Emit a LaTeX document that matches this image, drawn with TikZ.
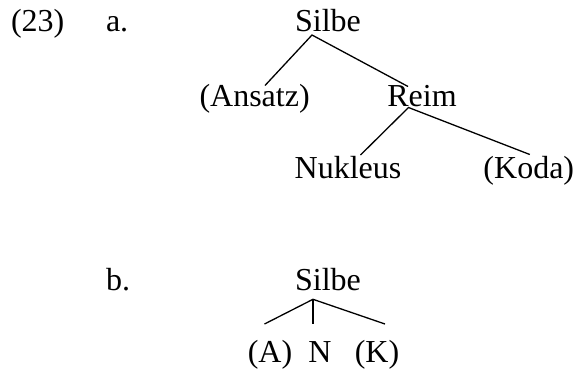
\documentclass[tikz,border=0pt]{standalone}
\usepackage{fontspec}
\setmainfont{Liberation Serif}
\begin{document}
\begin{tikzpicture}[x=1pt,y=-1pt,
  lbl/.style={inner sep=0pt,outer sep=0pt,anchor=base,font=\fontsize{32}{38}\selectfont},
  lblw/.style={lbl,anchor=base west},
  branch/.style={line width=1.3pt}]
\useasboundingbox (0,0) rectangle (576,368);
% row labels
\node[lblw] (num) at (11,31) {(23)};
\node[lblw] (la) at (106,31) {a.};
\node[lblw] (lb) at (106,290) {b.};
% tree a
\node[lbl] (silbeA) at (328,31) {Silbe};
\node[lbl] (ansatz) at (254.6,106.5) {(Ansatz)};
\node[lbl] (reim) at (422,106.5) {Reim};
\node[lbl] (nukleus) at (348,178) {Nukleus};
\node[lbl] (koda) at (528.8,178) {(Koda)};
\draw[branch] ([xshift=10.4pt,yshift=21pt]ansatz.base) -- ([xshift=-16pt,yshift=-4pt]silbeA.base)
  -- ([xshift=-14pt,yshift=20pt]reim.base);
\draw[branch] ([xshift=12.5pt,yshift=23pt]nukleus.base) -- ([xshift=-13.5pt,yshift=-1pt]reim.base)
  -- ([xshift=1pt,yshift=23.5pt]koda.base);
% tree b
\node[lbl] (silbeB) at (328,290) {Silbe};
\node[lbl] (kA) at (270,362) {(A)};
\node[lbl] (kN) at (320,362) {N};
\node[lbl] (kK) at (377,362) {(K)};
\draw[branch] ([xshift=-5.5pt,yshift=38pt]kA.base) -- ([xshift=-15pt,yshift=-9.3pt]silbeB.base)
  -- ([xshift=8pt,yshift=38pt]kK.base);
\draw[branch] ([xshift=-15pt,yshift=-9.3pt]silbeB.base) -- ([xshift=-7pt,yshift=38pt]kN.base);
\end{tikzpicture}
\end{document}
